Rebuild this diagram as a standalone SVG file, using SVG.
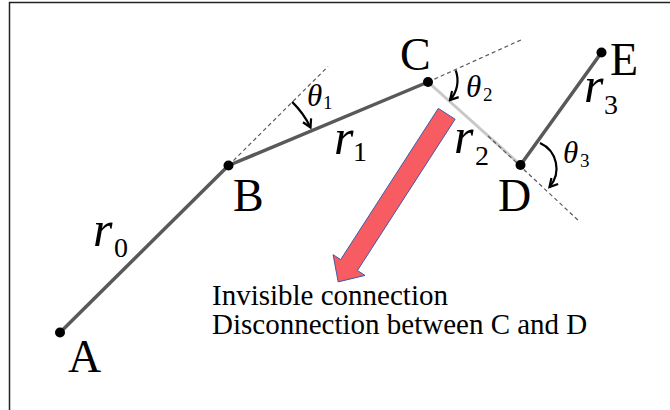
<svg xmlns="http://www.w3.org/2000/svg" width="670" height="410" viewBox="0 0 670 410">
<defs>
<style>
text{font-family:'Liberation Serif','DejaVu Serif',serif;fill:#000}
.frame{fill:none;stroke:#222;stroke-width:1.5}
.link{stroke:#595959;stroke-width:3.5;stroke-linecap:round}
.ghost{stroke:#c8c8c8;stroke-width:3}
.ext{stroke:#5a5a5a;stroke-width:1.2;stroke-dasharray:4 3;fill:none}
.ang{fill:none;stroke:#000;stroke-width:2.2;marker-end:url(#ah)}
.dot{fill:#000}
.lbl{font-size:46px}
.m{font-size:50px;font-style:italic}
.s{font-size:28px}
.t{font-size:31px;font-style:italic}
.ts{font-size:19px}
.cap{font-size:29px}
</style>
<marker id="ah" viewBox="-10 -6 12 12" refX="0" refY="0" markerWidth="12" markerHeight="12" markerUnits="userSpaceOnUse" orient="auto">
<path d="M-8,-4.5 L0,0 L-8,4.5" fill="none" stroke="#000" stroke-width="2.2"/>
</marker>
</defs>
<rect class="frame" x="9.5" y="2.5" width="700" height="500"/>
<g id="connectors">
<line class="ext" x1="228.5" y1="165.5" x2="328" y2="66.5"/>
<line class="ext" x1="428" y1="82" x2="523" y2="39"/>
<line class="link" x1="60" y1="332.5" x2="228.5" y2="165.5"/>
<line class="link" x1="228.5" y1="165.5" x2="428" y2="82"/>
<line class="ghost" x1="428" y1="82" x2="520.5" y2="165"/>
<line class="ext" x1="488" y1="136" x2="580" y2="222"/>
<line class="link" x1="520.5" y1="165" x2="601.5" y2="52.5"/>
</g>
<g id="angles">
<path class="ang" d="M292.1,101.9 A90,90 0 0 1 310.5,127.5"/>
<path class="ang" d="M455.7,70.4 A29,29 0 0 1 450,100"/>
<path class="ang" d="M540,143 A28,28 0 0 1 549.5,187"/>
<text class="t" x="307" y="106">θ</text><text class="ts" x="323" y="109">1</text>
<text class="t" x="466" y="97">θ</text><text class="ts" x="483" y="101">2</text>
<text class="t" x="563" y="163">θ</text><text class="ts" x="580" y="167">3</text>
</g>
<g id="A"><circle class="dot" cx="60" cy="332.5" r="5"/><text class="lbl" x="68" y="372">A</text></g>
<g id="B"><circle class="dot" cx="228.5" cy="165.5" r="5"/><text class="lbl" x="233" y="211">B</text></g>
<g id="C"><circle class="dot" cx="428" cy="82" r="5"/><text class="lbl" x="400" y="70">C</text></g>
<g id="D"><circle class="dot" cx="520.5" cy="165" r="5"/><text class="lbl" x="498" y="211">D</text></g>
<g id="E"><circle class="dot" cx="601.5" cy="52.5" r="5"/><text class="lbl" x="610" y="75">E</text></g>
<g id="lengths">
<text class="m" x="93" y="246">r</text><text class="s" x="114" y="257">0</text>
<text class="m" x="334" y="154">r</text><text class="s" x="353" y="161">1</text>
<text class="m" x="454" y="153">r</text><text class="s" x="475" y="165">2</text>
<text class="m" x="584" y="102">r</text><text class="s" x="604" y="114">3</text>
</g>
<g id="arrow">
<polygon points="438.3,108.4 455.1,119.2 357.45,270.48 365,275.4 338.2,281.9 333.1,254.7 340.65,259.62" fill="#f65c61" stroke="#3f5aa8" stroke-width="1"/>
</g>
<g id="caption">
<text class="cap" x="212" y="305">Invisible connection</text>
<text class="cap" x="212" y="334">Disconnection between C and D</text>
</g>
</svg>
